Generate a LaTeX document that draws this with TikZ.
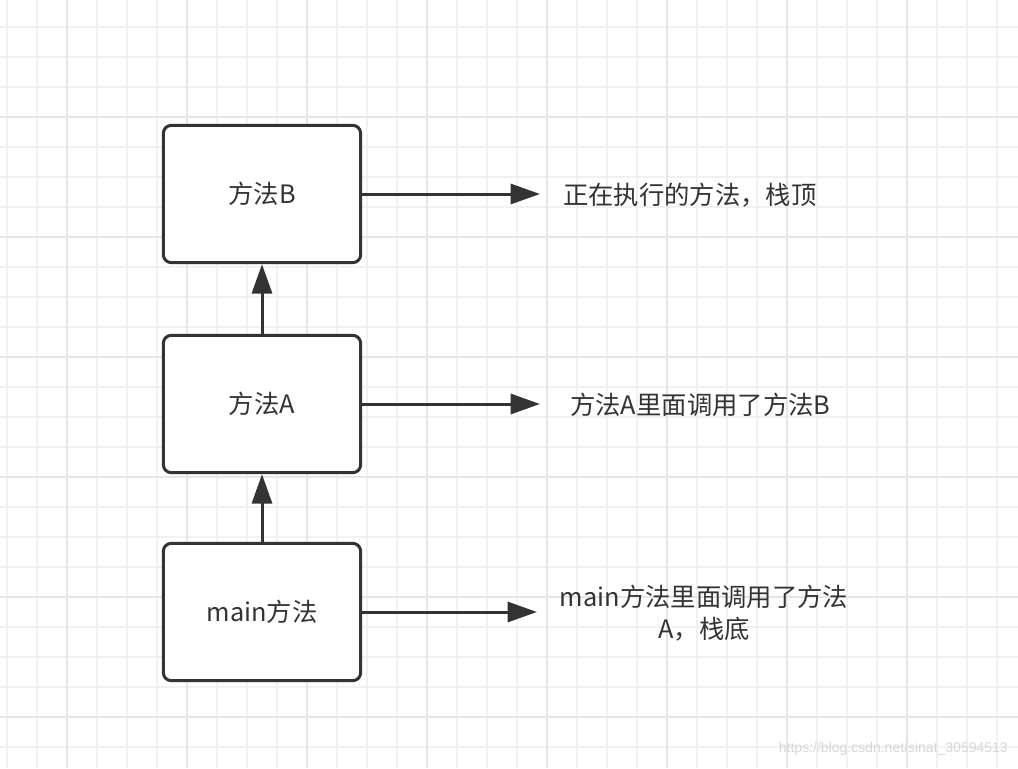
\documentclass[tikz,border=0pt]{standalone}
\usepackage{fontspec}
\setmainfont{Noto Sans CJK SC}
\newfontfamily\markfont{Liberation Sans}
\usetikzlibrary{arrows.meta}

\definecolor{inkgray}{HTML}{333333}
\definecolor{gridminor}{HTML}{F1F1F1}
\definecolor{gridmajor}{HTML}{E6E6E6}
\definecolor{markgray}{HTML}{D6D6D6}

\tikzset{
    framebox/.style={draw=inkgray, line width=2.25pt, rounded corners=6pt, fill=white,
        minimum width=148pt, minimum height=103pt, inner sep=0pt, text=inkgray,
        font=\fontsize{19}{24}\selectfont},
    notetext/.style={inner sep=0pt, text=inkgray, align=center,
        font=\fontsize{19}{24}\selectfont},
    callarrow/.style={draw=inkgray, line width=2.25pt, -{Triangle[length=22pt,width=15pt]}}
}

\begin{document}
\begin{tikzpicture}[x=0.75pt,y=0.75pt,yscale=-1,xscale=1]
    \useasboundingbox (0,0) rectangle (1018,768);
    \fill[white] (0,0) rectangle (1018,768);

    % grid
    \foreach \gx in {7,37,...,1017} {\draw[gridminor, line width=1.5pt] (\gx,0) -- (\gx,768);}
    \foreach \gy in {27,57,...,767} {\draw[gridminor, line width=1.5pt] (0,\gy) -- (1018,\gy);}
    \foreach \gx in {67,187,...,1017} {\draw[gridmajor, line width=1.5pt] (\gx,0) -- (\gx,768);}
    \foreach \gy in {117,237,...,767} {\draw[gridmajor, line width=1.5pt] (0,\gy) -- (1018,\gy);}

    % stack frames
    \node[framebox] (methodB) at (262,194) {方法B};
    \node[framebox] (methodA) at (262,404) {方法A};
    \node[framebox] (mainM) at (262,612) {main方法};

    % arrow ends
    \coordinate (tipB) at (540,194);
    \coordinate (tipA) at (540,404);
    \coordinate (tipMain) at (537,612);

    % notes
    \node[notetext, anchor=west] (noteB) at (563,195) {正在执行的方法，栈顶};
    \node[notetext, anchor=west] (noteA) at (570,405) {方法A里面调用了方法B};
    \node[notetext] (noteMain) at (704,613) {main方法里面调用了方法\\A，栈底};

    % arrows
    \draw[callarrow] (methodB.east) -- (tipB);
    \draw[callarrow] (methodA.east) -- (tipA);
    \draw[callarrow] (mainM.east) -- (tipMain);
    \draw[callarrow] (mainM.north) -- (methodA.south);
    \draw[callarrow] (methodA.north) -- (methodB.south);

    % watermark
    \node[anchor=east, inner sep=0pt, text=markgray, font=\markfont\fontsize{10.5}{12}\selectfont] (mark) at (1008,749) {https://blog.csdn.net/sinat\_30594513};
\end{tikzpicture}
\end{document}
